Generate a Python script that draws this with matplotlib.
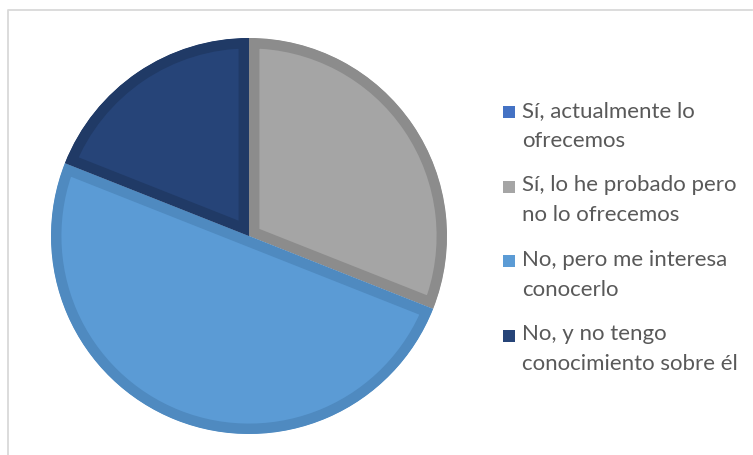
import matplotlib.pyplot as plt
from matplotlib.patches import Rectangle
from matplotlib.lines import Line2D

labels = ["Sí, actualmente lo\nofrecemos",
          "Sí, lo he probado pero\nno lo ofrecemos",
          "No, pero me interesa\nconocerlo",
          "No, y no tengo\nconocimiento sobre él"]
values = [0, 31, 50, 19]
fill_colors = ["#4472c4", "#a5a5a5", "#5b9bd5", "#264478"]
edge_colors = ["#3a64ad", "#8c8c8c", "#4f8ac0", "#203a66"]

plt.rcParams['font.family'] = ['Lato', 'DejaVu Sans']

W, H = 753, 456
fig = plt.figure(figsize=(W / 100, H / 100), dpi=100)

# chart frame (only top and left edges show in the crop)
fig.lines.append(Line2D([8 / W, 8 / W, 752 / W], [0, (H - 10.5) / H, (H - 10.5) / H],
                        transform=fig.transFigure, color="#d9d9d9", linewidth=1.3))

cx, cy, r = 249, 237, 198
ax = fig.add_axes([(cx - r) / W, (H - cy - r) / H, 2 * r / W, 2 * r / H])
wedges, _ = ax.pie(values, colors=fill_colors, startangle=90, counterclock=False,
                   radius=1, wedgeprops=dict(linewidth=0))
# darker inner border on each slice (stroke clipped to the slice itself)
for w, ec in zip(wedges, edge_colors):
    w.set_edgecolor(ec)
    w.set_linewidth(15)
    w.set_clip_path(w)
    w.set_clip_on(True)
ax.set_xlim(-1, 1)
ax.set_ylim(-1, 1)
ax.set_aspect('equal')
ax.axis('off')

# legend
y0, step = 113, 74.5
for i, (lab, c) in enumerate(zip(labels, fill_colors)):
    y = y0 + i * step
    fig.patches.append(Rectangle((503 / W, (H - y - 6) / H), 12 / W, 12 / H,
                                 transform=fig.transFigure, facecolor=c,
                                 edgecolor="none"))
    fig.text(522 / W, (H - y + 12) / H, lab, fontsize=16, color="#595959",
             va="top", ha="left", linespacing=1.6)

fig.savefig("out.png", dpi=100)
